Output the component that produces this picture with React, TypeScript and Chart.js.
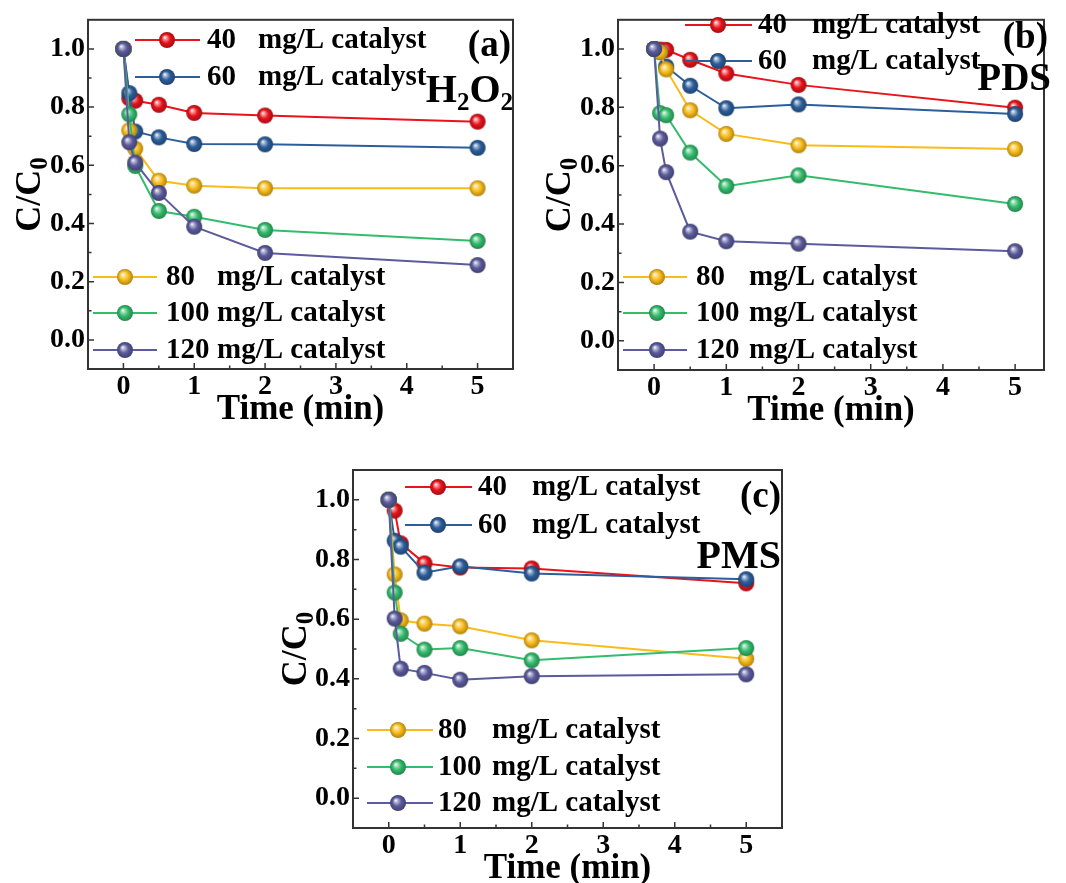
import React, { useEffect, useRef } from "react";
import { Chart, registerables } from "chart.js";
Chart.register(...registerables);

// ---------- data ----------
const timeMin = [0, 0.083, 0.167, 0.5, 1, 2, 5];
const catalystDoses = ["40", "60", "80", "100", "120"];
const doseUnit = "mg/L catalyst";
const seriesColors = ["#e8131b", "#2c5e9c", "#f8bb19", "#33bc6c", "#5b5b9d"];
const xTickValues = [0, 1, 2, 3, 4, 5];
const yTickValues = [0, 0.2, 0.4, 0.6, 0.8, 1.0];

// (a) H2O2
const h2o2_40 = [1.0, 0.83, 0.822, 0.808, 0.78, 0.771, 0.75];
const h2o2_60 = [1.0, 0.848, 0.716, 0.696, 0.673, 0.672, 0.66];
const h2o2_80 = [1.0, 0.72, 0.657, 0.547, 0.53, 0.521, 0.521];
const h2o2_100 = [1.0, 0.775, 0.598, 0.443, 0.423, 0.378, 0.34];
const h2o2_120 = [1.0, 0.679, 0.609, 0.505, 0.389, 0.299, 0.257];

// (b) PDS
const pds_40 = [1.0, 0.998, 0.997, 0.963, 0.916, 0.877, 0.799];
const pds_60 = [1.0, 0.99, 0.94, 0.874, 0.797, 0.81, 0.777];
const pds_80 = [1.0, 0.989, 0.93, 0.79, 0.709, 0.67, 0.657];
const pds_100 = [1.0, 0.78, 0.773, 0.645, 0.53, 0.567, 0.469];
const pds_120 = [1.0, 0.693, 0.578, 0.374, 0.341, 0.333, 0.307];

// (c) PMS
const pms_40 = [1.0, 0.964, 0.854, 0.787, 0.773, 0.77, 0.72];
const pms_60 = [1.0, 0.863, 0.843, 0.756, 0.777, 0.753, 0.734];
const pms_80 = [1.0, 0.75, 0.596, 0.585, 0.576, 0.529, 0.467];
const pms_100 = [1.0, 0.689, 0.551, 0.498, 0.503, 0.462, 0.503];
const pms_120 = [1.0, 0.602, 0.434, 0.42, 0.397, 0.409, 0.415];

const FONT = '"Liberation Serif", "Times New Roman", serif';

function shade(hex: string, f: number) {
  const n = parseInt(hex.slice(1), 16);
  let r = (n >> 16) & 255, g = (n >> 8) & 255, b = n & 255;
  if (f < 0) {
    r = Math.round(r * (1 + f)); g = Math.round(g * (1 + f)); b = Math.round(b * (1 + f));
  } else {
    r = Math.round(r + (255 - r) * f); g = Math.round(g + (255 - g) * f); b = Math.round(b + (255 - b) * f);
  }
  return `rgb(${r},${g},${b})`;
}

function sphere(color: string, r: number) {
  const c = document.createElement("canvas");
  const s = Math.ceil(2 * r + 2);
  c.width = s; c.height = s;
  const ctx = c.getContext("2d")!;
  const cx = s / 2, cy = s / 2;
  const g = ctx.createRadialGradient(cx - r * 0.3, cy - r * 0.35, 0, cx, cy, r);
  g.addColorStop(0, "#ffffff");
  g.addColorStop(0.22, shade(color, 0.55));
  g.addColorStop(0.55, color);
  g.addColorStop(1, shade(color, -0.3));
  ctx.fillStyle = g;
  ctx.beginPath();
  ctx.arc(cx, cy, r, 0, Math.PI * 2);
  ctx.fill();
  return c;
}

type Annot = { runs: { text: string; size: number; dy: number }[]; right: number; base: number };

type PanelCfg = {
  left: number; top: number; width: number; height: number;
  yAxisW: number; xAxisH: number; padTop: number; padRight: number;
  xMax: number;
  series: number[][];
  legendTop: { lineX1: number; lineX2: number; markX: number; numX: number; unitX: number; rows: number[] };
  legendBottom: { lineX1: number; lineX2: number; markX: number; numX: number; unitX: number; rows: number[] };
  annots: Annot[];
  yTitleX: number; xTitleBase: number;
};

const panels: PanelCfg[] = [
  {
    left: 0, top: 0, width: 530, height: 430,
    yAxisW: 88, xAxisH: 61, padTop: 15, padRight: 17, xMax: 5.5,
    series: [h2o2_40, h2o2_60, h2o2_80, h2o2_100, h2o2_120],
    legendTop: { lineX1: 135, lineX2: 200, markX: 167, numX: 207, unitX: 258, rows: [40, 77] },
    legendBottom: { lineX1: 93, lineX2: 157, markX: 125, numX: 166, unitX: 217, rows: [277, 313, 350] },
    annots: [
      { runs: [{ text: "(a)", size: 37, dy: 0 }], right: 511, base: 56 },
      { runs: [{ text: "H", size: 40, dy: 0 }, { text: "2", size: 25, dy: 8 }, { text: "O", size: 40, dy: 0 }, { text: "2", size: 25, dy: 8 }], right: 513, base: 102 },
    ],
    yTitleX: 40, xTitleBase: 419,
  },
  {
    left: 530, top: 0, width: 536, height: 430,
    yAxisW: 88, xAxisH: 60, padTop: 13, padRight: 22, xMax: 5.4,
    series: [pds_40, pds_60, pds_80, pds_100, pds_120],
    legendTop: { lineX1: 155, lineX2: 222, markX: 188, numX: 228, unitX: 282, rows: [25, 61] },
    legendBottom: { lineX1: 93, lineX2: 157, markX: 127, numX: 166, unitX: 219, rows: [277, 313, 350] },
    annots: [
      { runs: [{ text: "(b)", size: 37, dy: 0 }], right: 518, base: 48 },
      { runs: [{ text: "PDS", size: 39, dy: 0 }], right: 521, base: 90 },
    ],
    yTitleX: 40, xTitleBase: 420,
  },
  {
    left: 270, top: 450, width: 540, height: 433,
    yAxisW: 83, xAxisH: 55, padTop: 20, padRight: 28, xMax: 5.5,
    series: [pms_40, pms_60, pms_80, pms_100, pms_120],
    legendTop: { lineX1: 135, lineX2: 202, markX: 168, numX: 208, unitX: 262, rows: [37, 75] },
    legendBottom: { lineX1: 97, lineX2: 163, markX: 128, numX: 168, unitX: 222, rows: [280, 317, 353] },
    annots: [
      { runs: [{ text: "(c)", size: 37, dy: 0 }], right: 511, base: 57 },
      { runs: [{ text: "PMS", size: 40, dy: 0 }], right: 511, base: 118 },
    ],
    yTitleX: 36, xTitleBase: 428,
  },
];

function Panel({ cfg }: { cfg: PanelCfg }) {
  const ref = useRef<HTMLCanvasElement | null>(null);
  useEffect(() => {
    const canvas = ref.current!;
    const R = 8;
    const markers = seriesColors.map((c) => sphere(c, R));
    const datasets = cfg.series.map((vals, i) => ({
      label: catalystDoses[i] + " " + doseUnit,
      data: vals.map((v, j) => ({ x: timeMin[j], y: v })),
      borderColor: seriesColors[i],
      backgroundColor: seriesColors[i],
      borderWidth: 2,
      pointStyle: markers[i] as any,
      pointRadius: R,
      order: 5 - i,
      tension: 0,
    }));

    const deco = {
      id: "deco",
      afterDraw(chart: any) {
        const ctx: CanvasRenderingContext2D = chart.ctx;
        const a = chart.chartArea;
        const xs = chart.scales.x, ys = chart.scales.y;
        ctx.save();
        // ticks inside
        ctx.strokeStyle = "#333";
        ctx.lineWidth = 1.5;
        ctx.beginPath();
        for (let v = 0; v <= 5; v += 0.5) {
          const px = xs.getPixelForValue(v);
          const len = Number.isInteger(v) ? 6 : 3.5;
          ctx.moveTo(px, a.bottom); ctx.lineTo(px, a.bottom - len);
        }
        for (let k = 0; k <= 10; k++) {
          const v = k / 10;
          const py = ys.getPixelForValue(v);
          const len = k % 2 === 0 ? 6 : 3.5;
          ctx.moveTo(a.left, py); ctx.lineTo(a.left + len, py);
        }
        ctx.stroke();
        // frame
        ctx.lineWidth = 2;
        ctx.strokeRect(a.left, a.top, a.right - a.left, a.bottom - a.top);

        // legends
        const drawLegend = (L: any, idxs: number[]) => {
          idxs.forEach((si, r) => {
            const y = L.rows[r];
            ctx.strokeStyle = seriesColors[si];
            ctx.lineWidth = 2;
            ctx.beginPath();
            ctx.moveTo(L.lineX1, y); ctx.lineTo(L.lineX2, y);
            ctx.stroke();
            const m = markers[si];
            ctx.drawImage(m, L.markX - m.width / 2, y - m.height / 2);
            ctx.fillStyle = "#000";
            ctx.font = `bold 29px ${FONT}`;
            ctx.textBaseline = "middle";
            ctx.textAlign = "left";
            ctx.fillText(catalystDoses[si], L.numX, y + 1);
            ctx.fillText(doseUnit, L.unitX, y + 1);
          });
        };
        drawLegend(cfg.legendTop, [0, 1]);
        drawLegend(cfg.legendBottom, [2, 3, 4]);

        // annotations
        ctx.fillStyle = "#000";
        ctx.textBaseline = "alphabetic";
        ctx.textAlign = "left";
        cfg.annots.forEach((an) => {
          let total = 0;
          an.runs.forEach((run) => {
            ctx.font = `bold ${run.size}px ${FONT}`;
            total += ctx.measureText(run.text).width;
          });
          let x = an.right - total;
          an.runs.forEach((run) => {
            ctx.font = `bold ${run.size}px ${FONT}`;
            ctx.fillText(run.text, x, an.base + run.dy);
            x += ctx.measureText(run.text).width;
          });
        });

        // x title
        ctx.font = `bold 35px ${FONT}`;
        ctx.textAlign = "center";
        ctx.fillText("Time (min)", (a.left + a.right) / 2, cfg.xTitleBase);

        // y title C/C0 rotated
        ctx.save();
        ctx.translate(cfg.yTitleX, (a.top + a.bottom) / 2);
        ctx.rotate(-Math.PI / 2);
        ctx.textAlign = "left";
        ctx.font = `bold 36px ${FONT}`;
        const w1 = ctx.measureText("C/C").width;
        ctx.font = `bold 25px ${FONT}`;
        const w2 = ctx.measureText("0").width;
        const start = -(w1 + w2) / 2;
        ctx.font = `bold 36px ${FONT}`;
        ctx.fillText("C/C", start, 0);
        ctx.font = `bold 25px ${FONT}`;
        ctx.fillText("0", start + w1, 7);
        ctx.restore();

        ctx.restore();
      },
    };

    const tickFont = { family: FONT, size: 28, weight: "bold" as const };
    const chart = new Chart(canvas, {
      type: "line",
      data: { datasets: datasets as any },
      options: {
        responsive: false,
        animation: false,
        devicePixelRatio: 1,
        layout: { padding: { top: cfg.padTop, right: cfg.padRight, left: 0, bottom: 0 } },
        plugins: { legend: { display: false }, tooltip: { enabled: false } },
        scales: {
          x: {
            type: "linear",
            min: -0.5,
            max: cfg.xMax,
            afterFit: (s: any) => { s.height = cfg.xAxisH; },
            afterBuildTicks: (s: any) => { s.ticks = xTickValues.map((v) => ({ value: v })); },
            grid: { display: false, drawTicks: false },
            border: { display: false },
            ticks: { font: tickFont, color: "#000", padding: 1, maxRotation: 0, autoSkip: false, callback: (v: any) => String(v) },
          },
          y: {
            type: "linear",
            min: -0.1,
            max: 1.1,
            afterFit: (s: any) => { s.width = cfg.yAxisW; },
            afterBuildTicks: (s: any) => { s.ticks = yTickValues.map((v) => ({ value: v })); },
            grid: { display: false, drawTicks: false },
            border: { display: false },
            ticks: { font: tickFont, color: "#000", padding: 3, autoSkip: false, callback: (v: any) => Number(v).toFixed(1) },
          },
        },
      } as any,
      plugins: [deco],
    });
    return () => chart.destroy();
  }, [cfg]);
  return (
    <canvas
      ref={ref}
      width={cfg.width}
      height={cfg.height}
      style={{ position: "absolute", left: cfg.left, top: cfg.top, width: cfg.width, height: cfg.height }}
    />
  );
}

export default function App() {
  return (
    <div style={{ position: "absolute", left: 0, top: 0, width: 1066, height: 883, background: "#fff" }}>
      {panels.map((p, i) => (
        <Panel key={i} cfg={p} />
      ))}
    </div>
  );
}
